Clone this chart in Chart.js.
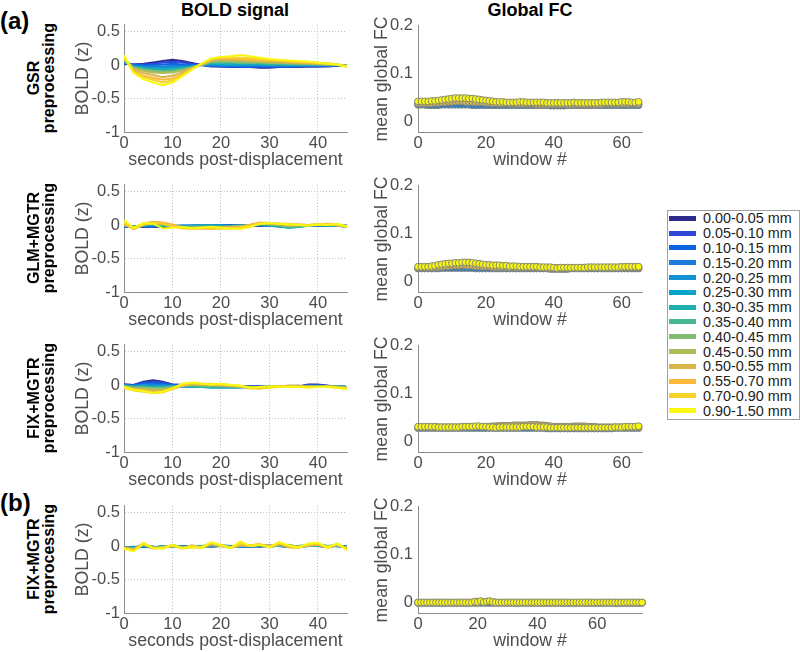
<!DOCTYPE html>
<html>
<head>
<meta charset="utf-8">
<script src="https://cdn.jsdelivr.net/npm/chart.js@4.4.1/dist/chart.umd.min.js"></script>
<style>
  body { margin: 0; background: #fff; font-family: "Liberation Sans", Arial, Helvetica, sans-serif; }
  #fig { position: relative; width: 800px; height: 652px; overflow: hidden; }
  .box { position: absolute; }
  .txt { position: absolute; white-space: nowrap; color: #000; }
  .colTitle { font-weight: bold; font-size: 18px; line-height: 18px; transform: translateX(-50%); }
  .tag { font-weight: bold; font-size: 24px; line-height: 24px; }
  .rowLab { font-weight: bold; font-size: 16px; line-height: 15px; text-align: center;
            transform: translate(-50%, -50%) rotate(-90deg); }
  #legend { position: absolute; left: 667px; top: 210px; width: 131px; height: 208px;
            border: 1px solid #a0a0a0; background: #fff; }
  .lg { display: flex; align-items: center; height: 14.8px; font-size: 14.4px; color: #222; }
  .sw { width: 27px; height: 5px; margin-left: 1px; margin-right: 7px; flex: none; }
</style>
</head>
<body>
<div id="fig">
  <div class="txt colTitle" style="left:235px; top:1px">BOLD signal</div>
  <div class="txt colTitle" style="left:530px; top:1px">Global FC</div>
  <div class="txt tag" style="left:0; top:9px">(a)</div>
  <div class="txt tag" style="left:0; top:491px">(b)</div>
  <div id="legend"></div>
</div>

<script>
// motion bins (legend)
const bins = ['0.00-0.05 mm','0.05-0.10 mm','0.10-0.15 mm','0.15-0.20 mm','0.20-0.25 mm','0.25-0.30 mm','0.30-0.35 mm',
              '0.35-0.40 mm','0.40-0.45 mm','0.45-0.50 mm','0.50-0.55 mm','0.55-0.70 mm','0.70-0.90 mm','0.90-1.50 mm'];
const binColors = ['#2e2b8e','#2f46d6','#0b65e0','#1a7bd9','#1490d4','#0aa3c8','#1eafb0',
                   '#45b893','#80bd72','#afbc5a','#d8b54b','#fbb83b','#f7d226','#f8f80f'];

const rowLabels = [['GSR','preprocessing'], ['GLM+MGTR','preprocessing'], ['FIX+MGTR','preprocessing'], ['FIX+MGTR','preprocessing']];

// BOLD signal panels: seconds post-displacement
const secs = [0,2,4,6,8,10,12,14,16,18,20,22,24,26,28,30,32,34,36,38,40,42,44,46];
const secTicks = [0,10,20,30,40];
const boldTicks = [-1,-0.5,0,0.5];

// one array per motion bin, low to high
const boldGsr = [
  [0.02,0.01,0.02,0.04,0.06,0.08,0.06,0.03,0.00,-0.02,-0.02,-0.03,-0.03,-0.03,-0.04,-0.04,-0.03,-0.03,-0.03,-0.02,-0.02,-0.02,-0.01,-0.01],
  [0.03,0.01,0.01,0.02,0.04,0.05,0.04,0.02,0.00,-0.01,-0.02,-0.02,-0.03,-0.03,-0.03,-0.03,-0.03,-0.02,-0.02,-0.02,-0.02,-0.01,-0.01,-0.01],
  [0.03,0.00,0.00,0.00,0.01,0.02,0.01,0.00,0.00,-0.01,-0.01,-0.02,-0.02,-0.02,-0.02,-0.02,-0.02,-0.02,-0.02,-0.01,-0.01,-0.01,-0.01,-0.01],
  [0.04,-0.01,-0.02,-0.02,-0.02,-0.01,-0.01,-0.01,0.00,0.00,-0.01,-0.01,-0.01,-0.01,-0.01,-0.01,-0.01,-0.01,-0.01,-0.01,-0.01,-0.01,0.00,-0.01],
  [0.05,-0.02,-0.03,-0.04,-0.04,-0.03,-0.03,-0.02,0.00,0.01,0.00,0.00,0.00,0.00,0.00,0.00,0.00,-0.01,0.00,-0.01,0.00,0.00,0.00,-0.01],
  [0.05,-0.02,-0.04,-0.05,-0.05,-0.05,-0.04,-0.02,0.00,0.02,0.01,0.01,0.01,0.01,0.01,0.01,0.00,0.00,0.00,0.00,0.00,0.00,0.00,-0.01],
  [0.06,-0.03,-0.05,-0.06,-0.07,-0.06,-0.05,-0.03,0.00,0.03,0.03,0.02,0.02,0.02,0.02,0.01,0.01,0.01,0.01,0.01,0.00,0.01,0.00,-0.01],
  [0.07,-0.03,-0.06,-0.08,-0.09,-0.08,-0.06,-0.03,0.00,0.04,0.04,0.04,0.03,0.03,0.03,0.02,0.02,0.02,0.01,0.01,0.01,0.01,0.00,-0.01],
  [0.08,-0.04,-0.07,-0.09,-0.10,-0.10,-0.07,-0.04,0.00,0.05,0.05,0.05,0.04,0.04,0.04,0.03,0.03,0.02,0.02,0.02,0.01,0.01,0.00,-0.01],
  [0.09,-0.05,-0.09,-0.11,-0.12,-0.11,-0.08,-0.04,0.01,0.06,0.07,0.06,0.06,0.05,0.05,0.04,0.04,0.03,0.03,0.02,0.02,0.01,0.01,-0.01],
  [0.10,-0.07,-0.12,-0.15,-0.18,-0.16,-0.11,-0.05,0.01,0.07,0.09,0.08,0.08,0.07,0.06,0.06,0.05,0.04,0.04,0.03,0.02,0.02,0.00,-0.02],
  [0.11,-0.09,-0.16,-0.19,-0.22,-0.20,-0.14,-0.06,0.01,0.08,0.10,0.10,0.09,0.08,0.07,0.07,0.06,0.05,0.04,0.04,0.03,0.02,0.01,-0.02],
  [0.12,-0.11,-0.18,-0.22,-0.26,-0.23,-0.15,-0.06,0.02,0.09,0.12,0.11,0.11,0.10,0.09,0.08,0.07,0.06,0.05,0.05,0.03,0.03,0.01,-0.03],
  [0.15,-0.12,-0.21,-0.26,-0.30,-0.26,-0.17,-0.07,0.02,0.10,0.12,0.13,0.15,0.13,0.11,0.09,0.08,0.07,0.06,0.05,0.04,0.02,0.01,-0.02]
];
const boldGlm = [
  [-0.02,-0.03,-0.02,-0.03,-0.03,-0.02,-0.02,-0.01,-0.01,-0.01,0.00,0.00,-0.01,-0.01,-0.01,-0.01,-0.01,-0.01,-0.01,-0.01,-0.01,-0.01,-0.01,-0.02],
  [-0.02,-0.03,-0.02,-0.02,-0.02,-0.02,-0.01,-0.01,-0.01,0.00,0.00,-0.01,-0.01,-0.01,-0.01,-0.01,0.00,-0.01,-0.01,-0.01,0.00,-0.01,-0.01,-0.02],
  [-0.02,-0.02,-0.02,-0.02,-0.02,-0.01,-0.01,-0.01,0.00,0.00,0.00,-0.01,-0.01,-0.01,0.00,0.00,0.00,-0.01,-0.01,-0.01,0.00,0.00,-0.01,-0.01],
  [-0.01,-0.02,-0.01,-0.01,-0.01,-0.01,-0.01,-0.01,0.00,-0.01,0.00,-0.01,-0.01,0.00,0.00,0.00,-0.01,-0.02,-0.01,0.00,0.00,-0.01,-0.01,-0.01],
  [-0.01,-0.02,-0.01,0.00,-0.01,-0.02,-0.01,-0.01,-0.01,0.00,-0.01,-0.01,0.00,0.00,0.00,-0.01,-0.02,-0.03,-0.02,-0.01,0.00,0.00,-0.01,-0.01],
  [-0.01,-0.02,0.00,0.01,-0.01,-0.02,-0.02,-0.01,0.00,-0.01,-0.01,-0.02,-0.01,0.00,0.01,-0.01,-0.02,-0.04,-0.02,-0.01,0.00,-0.01,-0.01,-0.01],
  [-0.01,-0.03,0.00,0.01,0.00,-0.02,-0.02,-0.02,-0.01,-0.01,-0.02,-0.02,-0.01,0.00,0.01,0.00,-0.02,-0.04,-0.03,-0.01,0.00,-0.01,-0.01,-0.02],
  [0.00,-0.03,0.01,0.02,0.00,-0.02,-0.03,-0.02,-0.02,-0.02,-0.02,-0.02,-0.02,0.00,0.01,0.01,-0.01,-0.03,-0.02,-0.01,0.00,0.00,-0.01,-0.02],
  [0.00,-0.04,0.01,0.03,0.01,-0.02,-0.03,-0.03,-0.03,-0.02,-0.03,-0.02,-0.02,0.00,0.02,0.01,0.00,-0.02,-0.01,0.00,0.00,0.01,-0.01,-0.02],
  [0.01,-0.05,0.02,0.04,0.02,-0.01,-0.03,-0.04,-0.03,-0.03,-0.03,-0.03,-0.02,-0.01,0.02,0.02,0.01,-0.01,0.00,0.00,0.01,0.01,0.00,-0.02],
  [0.01,-0.05,0.02,0.05,0.03,0.00,-0.04,-0.05,-0.04,-0.05,-0.04,-0.03,-0.02,0.00,0.03,0.02,0.02,0.00,0.01,0.00,0.01,0.02,0.00,-0.02],
  [0.02,-0.06,0.01,0.04,0.04,0.01,-0.04,-0.06,-0.05,-0.06,-0.05,-0.04,-0.03,0.00,0.04,0.03,0.02,0.01,0.01,0.00,0.01,0.02,0.01,-0.02],
  [0.04,-0.06,0.00,0.03,0.02,-0.02,-0.05,-0.05,-0.04,-0.04,-0.05,-0.06,-0.04,-0.01,0.02,0.03,0.02,0.02,0.00,0.00,0.01,0.01,0.01,-0.03],
  [0.07,-0.04,0.03,0.02,-0.05,-0.04,-0.03,-0.05,-0.04,-0.03,-0.04,-0.05,-0.06,-0.03,0.02,0.03,0.02,0.01,0.00,-0.01,0.01,0.00,0.02,-0.02]
];
const boldFix = [
  [0.01,0.00,0.05,0.07,0.05,0.01,0.00,-0.01,-0.01,0.00,-0.01,-0.01,-0.02,-0.02,-0.02,-0.02,-0.02,-0.02,-0.02,0.01,0.01,-0.01,-0.02,-0.03],
  [0.01,0.00,0.04,0.05,0.04,0.01,0.00,-0.01,-0.01,0.00,-0.01,-0.01,-0.02,-0.02,-0.02,-0.02,-0.02,-0.02,-0.02,0.00,0.00,-0.01,-0.02,-0.03],
  [0.00,-0.01,0.02,0.03,0.02,0.00,-0.01,-0.02,-0.02,-0.01,-0.01,-0.02,-0.02,-0.02,-0.02,-0.02,-0.02,-0.02,-0.02,-0.01,-0.01,-0.01,-0.02,-0.03],
  [0.00,-0.01,0.01,0.01,0.00,-0.01,-0.02,-0.02,-0.02,-0.02,-0.02,-0.02,-0.03,-0.03,-0.02,-0.02,-0.02,-0.02,-0.02,-0.01,-0.01,-0.02,-0.02,-0.03],
  [0.00,-0.02,0.00,-0.01,-0.01,-0.02,-0.02,-0.03,-0.03,-0.03,-0.03,-0.03,-0.03,-0.03,-0.03,-0.02,-0.02,-0.02,-0.02,-0.02,-0.02,-0.02,-0.02,-0.03],
  [-0.01,-0.02,-0.01,-0.02,-0.02,-0.02,-0.02,-0.03,-0.03,-0.04,-0.04,-0.04,-0.04,-0.03,-0.03,-0.03,-0.02,-0.02,-0.02,-0.02,-0.02,-0.02,-0.02,-0.03],
  [-0.01,-0.03,-0.02,-0.03,-0.03,-0.02,-0.01,-0.02,-0.03,-0.03,-0.03,-0.03,-0.03,-0.03,-0.03,-0.02,-0.02,-0.02,-0.02,-0.02,-0.02,-0.02,-0.02,-0.03],
  [-0.01,-0.03,-0.03,-0.04,-0.04,-0.02,-0.01,-0.01,-0.02,-0.02,-0.02,-0.02,-0.03,-0.03,-0.03,-0.02,-0.02,-0.02,-0.01,-0.02,-0.02,-0.02,-0.02,-0.03],
  [-0.02,-0.04,-0.04,-0.05,-0.05,-0.03,-0.01,0.00,-0.01,-0.01,-0.01,-0.02,-0.02,-0.03,-0.03,-0.02,-0.02,-0.01,-0.01,-0.02,-0.02,-0.02,-0.02,-0.04],
  [-0.02,-0.05,-0.05,-0.06,-0.06,-0.04,-0.01,0.01,0.00,0.00,-0.01,-0.01,-0.02,-0.03,-0.03,-0.02,-0.02,-0.01,-0.01,-0.02,-0.02,-0.02,-0.03,-0.04],
  [-0.03,-0.06,-0.07,-0.09,-0.08,-0.05,-0.01,0.02,0.01,0.00,0.00,-0.01,-0.02,-0.04,-0.04,-0.03,-0.02,-0.01,-0.02,-0.02,-0.03,-0.02,-0.03,-0.05],
  [-0.03,-0.07,-0.09,-0.11,-0.10,-0.06,-0.01,0.03,0.02,0.01,0.01,0.00,-0.02,-0.05,-0.05,-0.03,-0.02,-0.02,-0.02,-0.03,-0.03,-0.02,-0.04,-0.05],
  [-0.04,-0.08,-0.10,-0.12,-0.11,-0.06,0.00,0.03,0.02,0.02,0.01,0.00,-0.01,-0.04,-0.05,-0.04,-0.03,-0.02,-0.03,-0.03,-0.03,-0.02,-0.04,-0.06],
  [-0.03,-0.07,-0.09,-0.12,-0.10,-0.05,0.02,0.04,0.02,0.01,0.02,0.00,-0.01,-0.04,-0.03,-0.02,-0.02,-0.03,-0.03,-0.04,-0.03,-0.03,-0.04,-0.06]
];
const boldFixB = [
  [-0.03,-0.02,-0.01,-0.02,-0.01,0.00,-0.01,-0.01,0.00,-0.01,0.00,0.00,-0.01,0.00,-0.01,0.00,0.00,-0.01,0.00,0.00,0.00,-0.01,0.00,-0.01],
  [-0.02,-0.03,-0.01,-0.01,-0.02,0.00,0.00,-0.01,-0.01,0.00,0.00,-0.01,0.00,-0.01,0.00,0.01,0.00,-0.01,-0.01,0.00,0.01,0.00,0.00,-0.01],
  [-0.02,-0.02,0.00,-0.02,-0.01,0.00,-0.01,0.00,-0.01,0.01,0.00,0.00,-0.01,0.00,0.00,0.00,0.01,-0.01,0.00,0.01,0.00,-0.01,0.01,-0.01],
  [-0.03,-0.01,-0.01,-0.01,-0.02,0.01,-0.01,-0.01,0.00,0.00,0.01,0.00,0.00,-0.01,0.01,0.00,0.00,0.00,-0.01,0.00,0.01,0.00,0.00,-0.02],
  [-0.02,-0.03,0.00,-0.02,0.00,0.00,-0.02,0.00,-0.01,0.01,0.00,-0.01,0.01,0.00,0.00,-0.01,0.01,0.00,0.00,0.01,0.00,0.00,0.01,-0.01],
  [-0.03,-0.02,0.01,-0.01,-0.02,0.01,-0.01,-0.01,0.00,0.00,0.01,0.00,-0.01,0.01,0.00,0.00,0.02,-0.01,0.00,0.00,0.01,-0.01,0.02,-0.02],
  [-0.02,-0.04,0.01,-0.02,0.00,0.00,-0.02,0.01,-0.01,0.01,0.00,-0.01,0.00,0.00,0.01,-0.01,0.01,0.01,-0.01,0.01,0.02,0.00,0.01,-0.02],
  [-0.03,-0.03,0.02,-0.01,-0.03,0.01,-0.01,-0.01,0.00,0.02,0.00,-0.02,0.01,0.00,0.01,0.00,0.02,-0.01,0.00,0.01,0.01,-0.01,0.02,-0.03],
  [-0.02,-0.04,0.03,-0.02,-0.01,0.00,-0.02,0.00,-0.02,0.02,0.01,-0.02,0.00,0.01,0.02,-0.01,0.01,0.02,-0.01,0.00,0.02,0.00,0.01,-0.02],
  [-0.03,-0.05,0.02,-0.03,-0.02,0.01,-0.03,-0.01,-0.01,0.03,0.00,-0.02,0.02,0.00,0.02,0.00,0.02,0.00,-0.02,0.02,0.02,-0.02,0.02,-0.03],
  [-0.02,-0.05,0.04,-0.02,-0.03,0.00,-0.03,0.00,-0.03,0.03,0.01,-0.03,0.01,0.01,0.03,-0.02,0.03,0.01,-0.01,0.01,0.03,-0.01,0.02,-0.03],
  [-0.04,-0.06,0.03,-0.03,-0.03,0.02,-0.03,-0.02,-0.02,0.04,0.00,-0.03,0.03,0.00,0.02,0.00,0.04,-0.02,-0.02,0.03,0.02,-0.02,0.03,-0.04],
  [-0.03,-0.07,0.05,-0.04,-0.02,0.01,-0.04,0.01,-0.03,0.05,0.02,-0.02,0.04,0.01,0.03,-0.02,0.05,0.00,-0.03,0.02,0.04,-0.03,0.03,-0.05],
  [-0.04,-0.08,0.04,-0.03,-0.04,0.02,-0.03,-0.02,-0.02,0.06,0.01,-0.03,0.07,0.00,0.02,-0.02,0.06,0.01,-0.02,0.04,0.05,-0.02,0.04,-0.06]
];

// Global FC panels: mean global FC per window (window # = array index)
// shown bins: 0.15-0.20 mm, 0.50-0.55 mm, 0.90-1.50 mm
const fcBins = [3, 10, 13];
const fcTicksX = [0,20,40,60];
const fcTicksY = [0,0.1,0.2];

const fcGsrLo = [0.035,0.035,0.035,0.034,0.034,0.034,0.034,0.035,0.035,0.035,0.035,0.035,0.035,0.035,0.035,0.035,0.034,0.034,0.034,0.034,
  0.034,0.034,0.034,0.034,0.034,0.034,0.034,0.034,0.034,0.034,0.034,0.034,0.034,0.034,0.034,0.034,0.034,0.034,0.034,0.033,
  0.033,0.033,0.033,0.033,0.034,0.034,0.034,0.034,0.034,0.034,0.034,0.034,0.034,0.034,0.034,0.034,0.034,0.034,0.034,0.034,
  0.034,0.034,0.034,0.034,0.034,0.034];
const fcGsrMid = [0.038,0.038,0.038,0.038,0.038,0.039,0.039,0.040,0.040,0.041,0.041,0.042,0.042,0.042,0.041,0.041,0.041,0.040,0.040,0.040,
  0.039,0.039,0.038,0.038,0.038,0.038,0.038,0.037,0.037,0.037,0.037,0.037,0.037,0.037,0.037,0.036,0.036,0.036,0.036,0.036,
  0.036,0.036,0.036,0.036,0.036,0.036,0.036,0.036,0.036,0.036,0.036,0.036,0.036,0.036,0.036,0.037,0.037,0.037,0.037,0.037,
  0.037,0.037,0.037,0.037,0.037,0.037];
const fcGsrHi = [0.042,0.042,0.042,0.042,0.043,0.043,0.044,0.045,0.046,0.047,0.048,0.049,0.049,0.049,0.049,0.048,0.048,0.047,0.046,0.045,
  0.044,0.043,0.042,0.041,0.041,0.041,0.040,0.040,0.040,0.040,0.041,0.041,0.040,0.040,0.040,0.040,0.040,0.040,0.039,0.039,
  0.039,0.039,0.039,0.039,0.039,0.039,0.040,0.039,0.039,0.039,0.039,0.039,0.039,0.039,0.040,0.040,0.040,0.040,0.040,0.040,
  0.041,0.041,0.041,0.040,0.040,0.041];

const fcGlmLo = [0.027,0.027,0.027,0.027,0.027,0.027,0.027,0.028,0.028,0.028,0.028,0.028,0.028,0.028,0.028,0.028,0.028,0.027,0.027,0.027,
  0.027,0.027,0.027,0.027,0.027,0.027,0.027,0.027,0.027,0.027,0.027,0.027,0.027,0.027,0.027,0.027,0.027,0.027,0.027,0.026,
  0.026,0.026,0.026,0.026,0.026,0.027,0.027,0.027,0.027,0.027,0.027,0.027,0.027,0.027,0.027,0.027,0.027,0.027,0.027,0.027,
  0.027,0.027,0.027,0.027,0.027,0.027];
const fcGlmMid = [0.029,0.029,0.029,0.029,0.029,0.030,0.030,0.031,0.032,0.032,0.033,0.033,0.033,0.034,0.034,0.033,0.033,0.032,0.032,0.031,
  0.031,0.031,0.030,0.030,0.030,0.030,0.030,0.029,0.029,0.029,0.029,0.029,0.029,0.029,0.029,0.029,0.029,0.029,0.028,0.028,
  0.028,0.028,0.028,0.028,0.028,0.028,0.028,0.028,0.029,0.029,0.029,0.029,0.029,0.029,0.029,0.029,0.029,0.029,0.029,0.029,
  0.029,0.029,0.029,0.029,0.029,0.029];
const fcGlmHi = [0.031,0.031,0.031,0.031,0.032,0.033,0.035,0.036,0.037,0.038,0.038,0.039,0.039,0.040,0.040,0.040,0.039,0.038,0.037,0.036,
  0.035,0.035,0.034,0.034,0.034,0.033,0.033,0.032,0.032,0.032,0.031,0.031,0.031,0.031,0.031,0.031,0.030,0.030,0.030,0.030,
  0.029,0.028,0.029,0.029,0.029,0.029,0.029,0.029,0.029,0.029,0.030,0.030,0.030,0.030,0.030,0.030,0.030,0.030,0.030,0.030,
  0.031,0.031,0.031,0.031,0.031,0.031];

const fcFixLo = [0.028,0.028,0.028,0.028,0.028,0.028,0.028,0.028,0.028,0.028,0.028,0.028,0.028,0.028,0.028,0.028,0.028,0.028,0.028,0.028,
  0.028,0.028,0.028,0.028,0.028,0.028,0.028,0.028,0.028,0.028,0.028,0.028,0.028,0.028,0.028,0.028,0.028,0.028,0.027,0.027,
  0.027,0.027,0.027,0.027,0.027,0.027,0.027,0.027,0.027,0.027,0.027,0.027,0.027,0.027,0.027,0.027,0.027,0.027,0.028,0.028,
  0.028,0.028,0.028,0.028,0.028,0.028];
const fcFixMid = [0.030,0.030,0.030,0.030,0.030,0.030,0.030,0.030,0.030,0.030,0.030,0.030,0.030,0.030,0.031,0.031,0.031,0.031,0.031,0.031,
  0.031,0.031,0.032,0.032,0.033,0.033,0.033,0.033,0.034,0.034,0.034,0.034,0.034,0.035,0.035,0.035,0.034,0.034,0.033,0.032,
  0.031,0.031,0.031,0.031,0.031,0.031,0.032,0.032,0.032,0.032,0.031,0.031,0.031,0.030,0.030,0.030,0.030,0.030,0.030,0.030,
  0.030,0.030,0.030,0.030,0.030,0.030];
const fcFixHi = [0.031,0.031,0.031,0.031,0.031,0.031,0.030,0.030,0.030,0.030,0.030,0.030,0.030,0.031,0.031,0.031,0.031,0.032,0.032,0.031,
  0.031,0.030,0.030,0.029,0.030,0.030,0.030,0.030,0.030,0.030,0.030,0.031,0.031,0.031,0.031,0.030,0.030,0.030,0.030,0.029,
  0.029,0.029,0.029,0.029,0.029,0.029,0.029,0.029,0.029,0.029,0.029,0.029,0.029,0.029,0.029,0.029,0.029,0.029,0.030,0.030,
  0.030,0.031,0.031,0.031,0.031,0.032];

const fcFixBLo = [-0.001,-0.001,-0.001,-0.001,-0.001,-0.001,-0.001,-0.001,-0.001,-0.001,-0.001,-0.001,-0.001,-0.001,-0.001,-0.001,-0.001,-0.001,-0.001,-0.001,
  -0.001,-0.001,-0.001,-0.001,-0.001,-0.001,-0.001,-0.001,-0.001,-0.001,-0.001,-0.001,-0.001,-0.001,-0.001,-0.001,-0.001,-0.001,-0.001,-0.001,
  -0.001,-0.001,-0.001,-0.001,-0.001,-0.001,-0.001,-0.001,-0.001,-0.001,-0.001,-0.001,-0.001,-0.001,-0.001,-0.001,-0.001,-0.001,-0.001,-0.001,
  -0.001,-0.001,-0.001,-0.001,-0.001,-0.001,-0.001,-0.001,-0.001,-0.001,-0.001,-0.001,-0.001,-0.001,-0.001,-0.001];
const fcFixBMid = [0.000,0.000,0.000,0.000,0.000,0.000,0.000,0.000,0.000,0.000,0.000,0.000,0.000,0.000,0.000,0.000,0.000,0.000,0.000,0.001,
  0.002,0.002,0.001,0.002,0.002,0.001,0.000,0.000,0.000,0.000,0.000,0.000,0.000,0.000,0.000,0.000,0.000,0.000,0.000,0.000,
  0.000,0.000,0.000,0.000,0.000,0.000,0.000,0.000,0.000,0.000,0.000,0.000,0.000,0.000,0.000,0.000,0.000,0.000,0.000,0.000,
  0.000,0.000,0.000,0.000,0.000,0.000,0.000,0.000,0.000,0.000,0.000,0.000,0.000,0.000,0.000,0.000];
const fcFixBHi = [0.000,0.000,0.000,0.000,0.000,0.000,0.000,0.000,0.000,0.000,0.000,0.000,0.000,0.000,0.000,0.000,0.000,0.000,0.000,0.002,
  0.001,0.003,0.001,0.002,0.003,0.001,0.000,0.000,0.000,0.000,0.000,0.000,0.000,0.000,0.000,0.000,0.000,0.000,0.000,0.000,
  0.000,0.000,0.000,0.000,0.000,0.000,0.000,0.000,0.000,0.000,0.000,0.000,0.000,0.000,0.000,0.000,0.000,0.000,0.000,0.000,
  0.000,0.000,0.000,0.000,0.000,0.000,0.000,0.000,0.000,0.000,0.000,0.000,0.000,0.000,0.000,0.000];

const rows = [
  { top: 23,  bold: boldGsr,  fc: [fcGsrLo, fcGsrMid, fcGsrHi],     fcMax: 66 },
  { top: 183, bold: boldGlm,  fc: [fcGlmLo, fcGlmMid, fcGlmHi],     fcMax: 66 },
  { top: 343, bold: boldFix,  fc: [fcFixLo, fcFixMid, fcFixHi],     fcMax: 66 },
  { top: 504, bold: boldFixB, fc: [fcFixBLo, fcFixBMid, fcFixBHi], fcMax: 75 }
];
const plotH = 109;

Chart.defaults.font.family = '"Liberation Sans", Arial, Helvetica, sans-serif';
Chart.defaults.color = '#4d4d4d';

const tickFont = { size: 16.5 };
const titleFont = { size: 17.7 };
const axisGray = '#8c8c8c';

function setTicks(list) {
    return scale => { scale.ticks = list.map(v => ({ value: v })); };
}

function addBox(left, top, width, height) {
    const div = document.createElement('div');
    div.className = 'box';
    div.style.cssText = `left:${left}px;top:${top}px;width:${width}px;height:${height}px`;
    const cv = document.createElement('canvas');
    div.appendChild(cv);
    document.getElementById('fig').appendChild(div);
    return cv;
}

function drawBold(row) {
    const cv = addBox(60, row.top - 12, 299, 12 + plotH + 40);
    new Chart(cv, {
        type: 'line',
        data: {
            datasets: row.bold.map((vals, i) => ({
                label: bins[i],
                data: secs.map((x, k) => ({ x: x, y: vals[k] })),
                borderColor: binColors[i],
                borderWidth: 2,
                pointRadius: 0,
                order: bins.length - i
            }))
        },
        options: {
            animation: false,
            responsive: true,
            maintainAspectRatio: false,
            layout: { padding: { top: 12, right: 12, left: 0, bottom: 0 } },
            plugins: { legend: { display: false }, tooltip: { enabled: false } },
            scales: {
                x: {
                    type: 'linear', min: 0, max: 46,
                    afterBuildTicks: setTicks(secTicks),
                    afterFit: s => { s.height = 40; },
                    grid: { color: '#bdbdbd', lineWidth: 1, drawTicks: false },
                    border: { color: axisGray, width: 1, dash: [1, 2] },
                    ticks: { font: tickFont, padding: 2, maxRotation: 0, autoSkip: false },
                    title: { display: true, text: 'seconds post-displacement', font: titleFont, padding: { top: 0, bottom: 1.4 } }
                },
                y: {
                    type: 'linear', min: -1, max: 0.6,
                    afterBuildTicks: setTicks(boldTicks),
                    afterFit: s => { s.width = 64; },
                    grid: { color: '#bdbdbd', lineWidth: 1, drawTicks: false },
                    border: { color: axisGray, width: 1, dash: [1, 2] },
                    ticks: { font: tickFont, padding: 4, callback: v => String(v) },
                    title: { display: true, text: 'BOLD (z)', font: titleFont, padding: { top: 12, bottom: 0 } }
                }
            }
        }
    });
}

function drawFc(row) {
    const cv = addBox(362, row.top - 12, 292, 12 + plotH + 40);
    new Chart(cv, {
        type: 'line',
        data: {
            datasets: row.fc.map((vals, j) => ({
                label: bins[fcBins[j]],
                data: vals.map((v, k) => ({ x: k, y: v })),
                showLine: false,
                pointRadius: 3.4,
                pointBorderWidth: 1,
                pointBackgroundColor: binColors[fcBins[j]],
                pointBorderColor: '#86867c',
                clip: false,
                order: row.fc.length - j
            }))
        },
        options: {
            animation: false,
            responsive: true,
            maintainAspectRatio: false,
            layout: { padding: { top: 12, right: 12, left: 0, bottom: 0 } },
            plugins: { legend: { display: false }, tooltip: { enabled: false } },
            scales: {
                x: {
                    type: 'linear', min: 0, max: row.fcMax,
                    afterBuildTicks: setTicks(fcTicksX),
                    afterFit: s => { s.height = 40; },
                    grid: { display: false, drawTicks: false },
                    border: { color: axisGray, width: 1 },
                    ticks: { font: tickFont, padding: 2, maxRotation: 0, autoSkip: false },
                    title: { display: true, text: 'window #', font: titleFont, padding: { top: 0, bottom: 1.4 } }
                },
                y: {
                    type: 'linear', min: -0.022, max: 0.2,
                    afterBuildTicks: setTicks(fcTicksY),
                    afterFit: s => { s.width = 56; },
                    grid: { display: false, drawTicks: false },
                    border: { color: axisGray, width: 1 },
                    ticks: { font: tickFont, padding: 5, callback: v => String(v) },
                    title: { display: true, text: 'mean global FC', font: titleFont, padding: { top: 9.4, bottom: 0 } }
                }
            }
        }
    });
}

rows.forEach((row, r) => {
    drawBold(row);
    drawFc(row);
    const lab = document.createElement('div');
    lab.className = 'txt rowLab';
    lab.style.left = '41px';
    lab.style.top = (row.top + plotH / 2) + 'px';
    lab.innerHTML = rowLabels[r].join('<br>');
    document.getElementById('fig').appendChild(lab);
});

// legend
document.getElementById('legend').innerHTML = bins.map((b, i) => `
    <div class="lg"><span class="sw" style="background:${binColors[i]}"></span>${b}</div>
`).join('');
</script>
</body>
</html>
